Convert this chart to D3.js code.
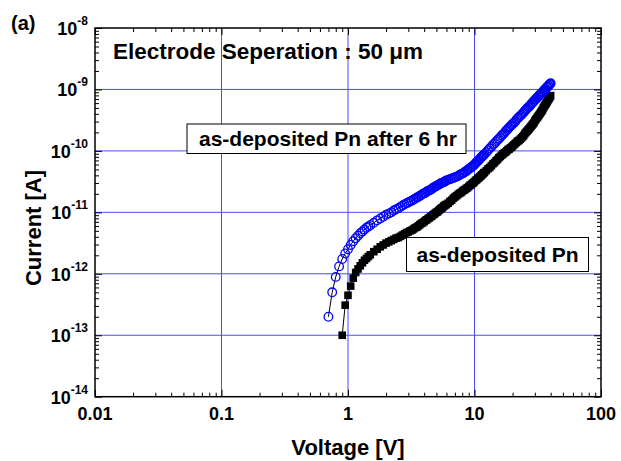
<!DOCTYPE html>
<html>
<head>
<meta charset="utf-8">
<script src="https://cdn.jsdelivr.net/npm/d3@7"></script>
<style>
  body { margin: 0; background: #fff; }
  text { font-family: Arial, "Liberation Sans", sans-serif; font-weight: bold; }
</style>
</head>
<body>
<div id="central-container"></div>
<script>
// data: voltage [V], current [A]
const voltage = [0.7, 0.75, 0.8, 0.85, 0.9, 0.95, 1.0, 1.05, 1.1, 1.15, 1.2, 1.25, 1.3, 1.35, 1.4, 1.45, 1.5,
  1.6, 1.7, 1.8, 1.9, 2.0, 2.1, 2.2, 2.3, 2.4, 2.5, 2.6, 2.7, 2.8, 2.9, 3.0,
  3.1, 3.2, 3.3, 3.4, 3.5, 3.6, 3.7, 3.8, 3.9, 4.0, 4.1, 4.2, 4.3, 4.4, 4.5, 4.6, 4.7, 4.8, 4.9, 5.0,
  5.1, 5.2, 5.3, 5.4, 5.5, 5.6, 5.7, 5.8, 5.9, 6.0,
  6.2, 6.4, 6.6, 6.8, 7.0, 7.2, 7.4, 7.6, 7.8, 8.0, 8.2, 8.4, 8.6, 8.8, 9.0, 9.2, 9.4, 9.6, 9.8, 10.0,
  10.2, 10.4, 10.6, 10.8, 11.0, 11.2, 11.4, 11.6, 11.8, 12.0,
  12.4, 12.8, 13.2, 13.6, 14.0, 14.4, 14.8, 15.2, 15.6, 16.0, 16.4, 16.8, 17.2, 17.6, 18.0, 18.4, 18.8, 19.2, 19.6, 20.0,
  20.5, 21, 21.5, 22, 22.5, 23, 23.5, 24, 24.5, 25, 25.5, 26, 26.5, 27, 27.5, 28, 28.5, 29, 29.5, 30,
  30.5, 31, 31.5, 32, 32.5, 33, 33.5, 34, 34.5, 35, 35.5, 36, 36.5, 37, 37.5, 38, 38.5, 39, 39.5, 40]

// "as-deposited Pn after 6 hr" (open blue circles)
const blueCurrent = [2.0e-13, 5.0e-13, 8.9e-13, 1.32e-12, 1.74e-12, 2.14e-12, 2.51e-12, 2.95e-12, 3.39e-12, 3.80e-12,
  4.17e-12, 4.57e-12, 4.90e-12, 5.25e-12, 5.62e-12, 5.89e-12, 6.17e-12,
  6.76e-12, 7.41e-12, 7.94e-12, 8.51e-12, 9.12e-12, 9.55e-12, 1.00e-11, 1.07e-11, 1.12e-11, 1.17e-11, 1.23e-11,
  1.29e-11, 1.35e-11, 1.41e-11, 1.45e-11,
  1.51e-11, 1.55e-11, 1.62e-11, 1.66e-11, 1.74e-11, 1.78e-11, 1.86e-11, 1.91e-11, 2.00e-11, 2.04e-11,
  2.09e-11, 2.19e-11, 2.24e-11, 2.29e-11, 2.34e-11, 2.40e-11, 2.51e-11, 2.57e-11, 2.63e-11, 2.69e-11,
  2.75e-11, 2.82e-11, 2.88e-11, 2.95e-11, 3.02e-11, 3.05e-11, 3.09e-11, 3.16e-11, 3.24e-11, 3.31e-11,
  3.39e-11, 3.47e-11, 3.55e-11, 3.63e-11, 3.72e-11, 3.80e-11, 3.89e-11, 4.07e-11, 4.17e-11, 4.27e-11,
  4.37e-11, 4.57e-11, 4.68e-11, 4.90e-11, 5.01e-11, 5.25e-11, 5.37e-11, 5.62e-11, 5.75e-11, 6.03e-11,
  6.31e-11, 6.61e-11, 6.76e-11, 7.08e-11, 7.41e-11, 7.76e-11, 7.94e-11, 8.32e-11, 8.51e-11, 8.91e-11,
  9.55e-11, 1.02e-10, 1.10e-10, 1.17e-10, 1.26e-10, 1.32e-10, 1.41e-10, 1.51e-10, 1.58e-10, 1.66e-10,
  1.78e-10, 1.86e-10, 1.95e-10, 2.09e-10, 2.19e-10, 2.29e-10, 2.40e-10, 2.51e-10, 2.63e-10, 2.75e-10,
  2.88e-10, 3.02e-10, 3.24e-10, 3.39e-10, 3.55e-10, 3.72e-10, 3.89e-10, 4.07e-10, 4.27e-10, 4.47e-10,
  4.68e-10, 4.90e-10, 5.13e-10, 5.25e-10, 5.50e-10, 5.75e-10, 6.03e-10, 6.17e-10, 6.46e-10, 6.76e-10,
  6.92e-10, 7.24e-10, 7.41e-10, 7.76e-10, 7.94e-10, 8.32e-10, 8.51e-10, 8.71e-10, 9.12e-10, 9.33e-10,
  9.77e-10, 1.00e-9, 1.02e-9, 1.07e-9, 1.10e-9, 1.12e-9, 1.15e-9, 1.20e-9, 1.23e-9, 1.26e-9]

// "as-deposited Pn" (filled black squares), no reading below 0.9 V
const blackCurrent = [null, null, null, null,
  1.0e-13, 3.09e-13, 4.47e-13, 6.31e-13, 8.51e-13, 1.05e-12, 1.20e-12, 1.35e-12, 1.51e-12, 1.66e-12,
  1.78e-12, 1.91e-12, 2.04e-12,
  2.29e-12, 2.51e-12, 2.75e-12, 2.95e-12, 3.16e-12, 3.31e-12, 3.47e-12, 3.63e-12, 3.80e-12, 3.89e-12,
  4.07e-12, 4.27e-12, 4.47e-12, 4.68e-12, 4.79e-12,
  5.01e-12, 5.13e-12, 5.37e-12, 5.62e-12, 5.75e-12, 6.03e-12, 6.31e-12, 6.61e-12, 6.76e-12, 7.08e-12,
  7.41e-12, 7.59e-12, 7.94e-12, 8.13e-12, 8.51e-12, 8.71e-12, 9.12e-12, 9.33e-12, 9.77e-12, 1.00e-11,
  1.02e-11, 1.07e-11, 1.10e-11, 1.15e-11, 1.17e-11, 1.20e-11, 1.26e-11, 1.29e-11, 1.32e-11, 1.35e-11,
  1.41e-11, 1.51e-11, 1.58e-11, 1.70e-11, 1.78e-11, 1.86e-11, 1.95e-11, 2.04e-11, 2.09e-11, 2.19e-11,
  2.29e-11, 2.34e-11, 2.45e-11, 2.51e-11, 2.63e-11, 2.75e-11, 2.82e-11, 2.95e-11, 3.02e-11, 3.16e-11,
  3.31e-11, 3.39e-11, 3.55e-11, 3.63e-11, 3.80e-11, 3.89e-11, 4.07e-11, 4.17e-11, 4.37e-11, 4.47e-11,
  4.79e-11, 5.13e-11, 5.37e-11, 5.75e-11, 6.17e-11, 6.46e-11, 6.92e-11, 7.24e-11, 7.76e-11, 8.13e-11,
  8.51e-11, 8.91e-11, 9.33e-11, 9.55e-11, 1.00e-10, 1.05e-10, 1.07e-10, 1.12e-10, 1.15e-10, 1.20e-10,
  1.26e-10, 1.32e-10, 1.38e-10, 1.45e-10, 1.48e-10, 1.55e-10, 1.62e-10, 1.70e-10, 1.78e-10, 1.91e-10,
  2.00e-10, 2.09e-10, 2.19e-10, 2.29e-10, 2.40e-10, 2.51e-10, 2.63e-10, 2.75e-10, 2.88e-10, 3.09e-10,
  3.24e-10, 3.39e-10, 3.55e-10, 3.72e-10, 3.89e-10, 4.07e-10, 4.27e-10, 4.47e-10, 4.68e-10, 5.01e-10,
  5.25e-10, 5.50e-10, 5.75e-10, 6.03e-10, 6.31e-10, 6.61e-10, 6.92e-10, 7.24e-10, 7.59e-10, 7.94e-10]

// tick values and labels
const xTicks = [0.01, 0.1, 1, 10, 100]
const xTickLabels = ["0.01", "0.1", "1", "10", "100"]
const yTicks = [1e-8, 1e-9, 1e-10, 1e-11, 1e-12, 1e-13, 1e-14]
const yTickExponents = ["-8", "-9", "-10", "-11", "-12", "-13", "-14"]

const width = 621
const height = 461
const margin = { left: 95, right: 20, top: 28, bottom: 64.3 }
const plotW = width - margin.left - margin.right
const plotH = height - margin.top - margin.bottom

var svg = d3.select("#central-container")
  .append("svg")
  .attr("width", width)
  .attr("height", height)

var x = d3.scaleLog().domain([0.01, 100]).range([margin.left, margin.left + plotW])
var y = d3.scaleLog().domain([1e-14, 1e-8]).range([margin.top + plotH, margin.top])

// minor ticks 2..9 per decade
var xMinor = []
for (var e = -2; e < 2; e++) for (var m = 2; m < 10; m++) xMinor.push(m * Math.pow(10, e))
var yMinor = []
for (var e = -14; e < -8; e++) for (var m = 2; m < 10; m++) yMinor.push(m * Math.pow(10, e))

// grid lines
var grid = svg.append("g").attr("stroke", "#4d4dff").attr("stroke-width", 1)
grid.selectAll(".gx").data(xTicks.slice(1, -1)).enter().append("line")
  .attr("x1", d => x(d)).attr("x2", d => x(d))
  .attr("y1", margin.top).attr("y2", margin.top + plotH)
grid.selectAll(".gy").data(yTicks.slice(1, -1)).enter().append("line")
  .attr("y1", d => y(d)).attr("y2", d => y(d))
  .attr("x1", margin.left).attr("x2", margin.left + plotW)

// axes with inward ticks on all four sides
function addAxis(axisFn, scale, translate, values, size) {
  var g = svg.append("g")
    .attr("transform", translate)
    .call(axisFn(scale).tickValues(values).tickSize(-size).tickFormat(""))
  g.select(".domain").remove()
  g.selectAll("line").attr("stroke", "#000").attr("stroke-width", 1)
}
var bottomT = "translate(0," + (margin.top + plotH) + ")"
var topT = "translate(0," + margin.top + ")"
var leftT = "translate(" + margin.left + ",0)"
var rightT = "translate(" + (margin.left + plotW) + ",0)"
addAxis(d3.axisBottom, x, bottomT, xTicks, 7)
addAxis(d3.axisBottom, x, bottomT, xMinor, 4)
addAxis(d3.axisTop, x, topT, xTicks, 7)
addAxis(d3.axisTop, x, topT, xMinor, 4)
addAxis(d3.axisLeft, y, leftT, yTicks, 7)
addAxis(d3.axisLeft, y, leftT, yMinor, 4)
addAxis(d3.axisRight, y, rightT, yTicks, 7)
addAxis(d3.axisRight, y, rightT, yMinor, 4)

// frame
svg.append("rect")
  .attr("x", margin.left).attr("y", margin.top)
  .attr("width", plotW).attr("height", plotH)
  .attr("fill", "none").attr("stroke", "#000").attr("stroke-width", 1.5)

// tick labels
svg.selectAll(".xl").data(xTicks).enter().append("text")
  .attr("x", d => x(d)).attr("y", 420)
  .attr("text-anchor", "middle").attr("font-size", 18)
  .text((d, i) => xTickLabels[i])

var yl = svg.selectAll(".yl").data(yTicks).enter().append("text")
  .attr("x", 88).attr("y", d => y(d) + 7)
  .attr("text-anchor", "end").attr("font-size", 18)
yl.append("tspan").text("10")
yl.append("tspan").attr("font-size", 12).attr("dy", -10).text((d, i) => yTickExponents[i])

// axis titles
svg.append("text")
  .attr("x", 348).attr("y", 455)
  .attr("text-anchor", "middle").attr("font-size", 22)
  .text("Voltage [V]")
svg.append("text")
  .attr("transform", "translate(41,228) rotate(-90)")
  .attr("text-anchor", "middle").attr("font-size", 22)
  .text("Current [A]")

svg.append("text").attr("x", 11).attr("y", 30).attr("font-size", 20).text("(a)")

// data series
var blackData = voltage.map((v, i) => ({ v: v, c: blackCurrent[i] })).filter(d => d.c != null)
var blueData = voltage.map((v, i) => ({ v: v, c: blueCurrent[i] }))
var line = d3.line().x(d => x(d.v)).y(d => y(d.c))

svg.append("path").datum(blackData).attr("d", line)
  .attr("fill", "none").attr("stroke", "#000").attr("stroke-width", 1)
svg.append("g").selectAll("rect").data(blackData).enter().append("rect")
  .attr("x", d => x(d.v) - 3.8).attr("y", d => y(d.c) - 3.8)
  .attr("width", 7.6).attr("height", 7.6)
  .attr("fill", "#000")

svg.append("path").datum(blueData).attr("d", line)
  .attr("fill", "none").attr("stroke", "#000").attr("stroke-width", 1)
svg.append("g").selectAll("circle").data(blueData).enter().append("circle")
  .attr("cx", d => x(d.v)).attr("cy", d => y(d.c))
  .attr("r", 4.3)
  .attr("fill", "none").attr("stroke", "#0000ff").attr("stroke-width", 1.3)

// annotation boxes
function label(x0, y0, w, h, tx, ty, str) {
  svg.append("rect").attr("x", x0).attr("y", y0).attr("width", w).attr("height", h)
    .attr("fill", "#fff").attr("stroke", "#000").attr("stroke-width", 1)
  svg.append("text").attr("x", tx).attr("y", ty).attr("font-size", 21).text(str)
}
label(187, 124, 279, 29.5, 199, 146, "as-deposited Pn after 6 hr")
label(406.5, 237.5, 182, 34, 416.5, 261.5, "as-deposited Pn")

svg.append("text").attr("x", 113).attr("y", 59).attr("font-size", 22.5)
  .text("Electrode Seperation : 50 \u03bcm")
</script>
</body>
</html>
